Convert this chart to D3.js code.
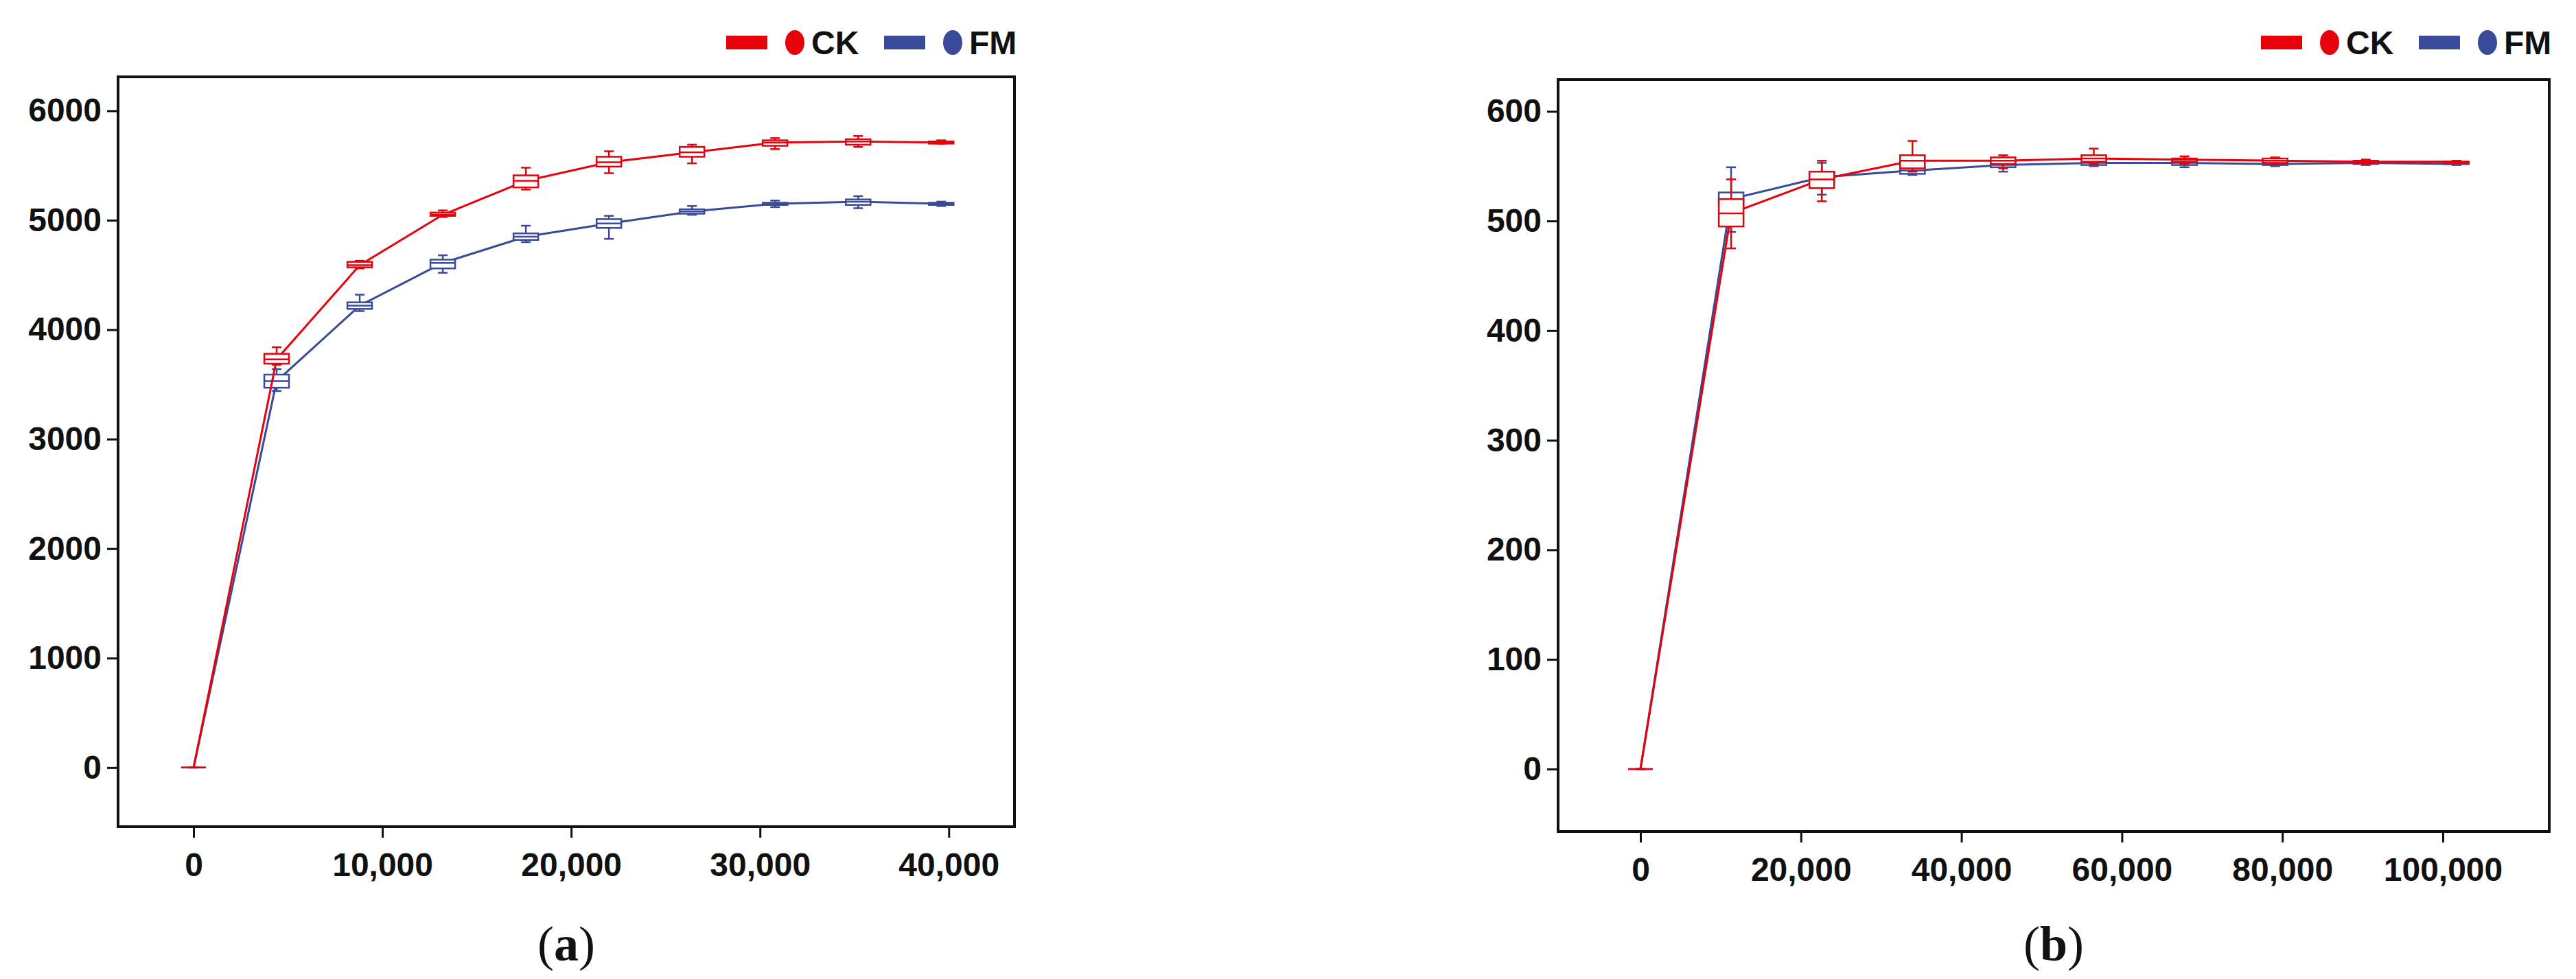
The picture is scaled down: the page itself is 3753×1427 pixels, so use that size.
<!DOCTYPE html>
<html><head><meta charset="utf-8">
<script src="https://cdn.jsdelivr.net/npm/d3@7"></script>
<style>body{margin:0;background:#fff}</style>
</head><body>
<script>
// [min, q1, median, q3, max]
var xA = [0, 4400, 8800, 13200, 17600, 22000, 26400, 30800, 35200, 39600];
var ckA = [[0,0,0,0,0],[3680,3690,3730,3780,3840],[4560,4570,4590,4620,4630],[5030,5040,5050,5070,5090],
  [5280,5300,5360,5410,5480],[5430,5490,5530,5580,5630],[5520,5580,5620,5670,5690],
  [5650,5680,5710,5730,5750],[5670,5690,5720,5740,5770],[5700,5700,5710,5720,5730]];
var fmA = [[0,0,0,0,0],[3440,3470,3530,3590,3640],[4170,4190,4220,4250,4320],[4520,4560,4610,4640,4680],
  [4800,4820,4850,4880,4950],[4830,4930,4970,5010,5040],[5050,5060,5080,5100,5130],
  [5120,5140,5150,5160,5180],[5110,5140,5170,5190,5220],[5130,5140,5150,5160,5170]];
var xB = [0, 11300, 22600, 33900, 45200, 56500, 67800, 79100, 90400, 101700];
var ckB = [[0,0,0,0,0],[475,495,507,520,538],[518,530,538,545,555],[545,548,555,560,573],
  [548,552,555,558,560],[552,554,557,560,566],[552,554,556,557,559],[552,553,555,557,558],
  [552,553,554,555,556],[553,553,554,554,555]];
var fmB = [[0,0,0,0,0],[490,515,520,526,549],[524,535,540,545,553],[542,543,546,549,551],
  [545,549,551,554,557],[550,551,553,554,556],[549,551,553,555,557],[550,551,552,553,555],
  [551,552,553,554,555],[551,552,552,553,554]];
var yTicksA = [0,1000,2000,3000,4000,5000,6000];
var xTicksA = [0,10000,20000,30000,40000];
var yTicksB = [0,100,200,300,400,500,600];
var xTicksB = [0,20000,40000,60000,80000,100000];

var RED = "#e8000b", BLUE = "#3a4a9a";
var svg = d3.select("body").append("svg").attr("width",3753).attr("height",1427);
var font = "'Liberation Sans Narrow','Liberation Sans',Arial,sans-serif";

function panel(o) {
  var x = d3.scaleLinear().domain(o.xd).range([o.l, o.r]);
  var y = d3.scaleLinear().domain(o.yd).range([o.b, o.t]);
  var g = svg.append("g");
  g.append("rect").attr("x",o.l).attr("y",o.t).attr("width",o.r-o.l).attr("height",o.b-o.t)
    .attr("fill","none").attr("stroke","#111").attr("stroke-width",4);
  var ya = g.append("g").attr("transform","translate("+(o.l-2)+",0)")
    .call(d3.axisLeft(y).tickValues(o.yt).tickSize(14).tickPadding(8).tickFormat(d3.format("d")));
  var xa = g.append("g").attr("transform","translate(0,"+(o.b+2)+")")
    .call(d3.axisBottom(x).tickValues(o.xt).tickSize(14).tickPadding(22).tickFormat(d3.format(",")));
  [ya, xa].forEach(function(a){
    a.select(".domain").remove();
    a.selectAll("line").attr("stroke","#111").attr("stroke-width",3);
    a.selectAll("text").attr("font-family",font).attr("font-weight","bold")
      .attr("font-size",48).attr("fill","#111");
  });
  var bw = 36;
  [[o.fm, BLUE], [o.ck, RED]].forEach(function(s){
    var data = s[0], c = s[1];
    g.append("path").datum(data).attr("fill","none").attr("stroke",c).attr("stroke-width",3)
      .attr("d", d3.line().x(function(d,i){return x(o.xs[i]);}).y(function(d){return y(d[2]);}));
    var bx = g.selectAll(null).data(data).enter().append("g")
      .attr("transform", function(d,i){return "translate("+x(o.xs[i])+",0)";});
    bx.append("line").attr("y1",function(d){return y(d[0]);}).attr("y2",function(d){return y(d[4]);})
      .attr("stroke",c).attr("stroke-width",2.5);
    [0,4].forEach(function(k){
      bx.append("line").attr("x1",-7).attr("x2",7).attr("y1",function(d){return y(d[k]);})
        .attr("y2",function(d){return y(d[k]);}).attr("stroke",c).attr("stroke-width",2.5);
    });
    bx.append("rect").attr("x",-bw/2).attr("width",bw)
      .attr("y",function(d){return y(d[3]);})
      .attr("height",function(d){return Math.max(0, y(d[1])-y(d[3]));})
      .attr("fill","#fff").attr("stroke",c).attr("stroke-width",2.5);
    bx.append("line").attr("x1",-bw/2).attr("x2",bw/2).attr("y1",function(d){return y(d[2]);})
      .attr("y2",function(d){return y(d[2]);}).attr("stroke",c).attr("stroke-width",2.5);
  });
  // legend
  var lx = o.r - 420, ly = 62;
  [["CK",RED,0],["FM",BLUE,230]].forEach(function(e){
    g.append("rect").attr("x",lx+e[2]).attr("y",ly-10).attr("width",60).attr("height",20).attr("fill",e[1]);
    g.append("ellipse").attr("cx",lx+e[2]+100).attr("cy",ly).attr("rx",14).attr("ry",18).attr("fill",e[1]);
    g.append("text").attr("x",lx+e[2]+124).attr("y",ly+17).text(e[0])
      .attr("font-family",font).attr("font-weight","bold").attr("font-size",48).attr("fill","#111");
  });
  var cap = g.append("text").attr("x",(o.l+o.r)/2).attr("y",1400).attr("text-anchor","middle")
    .attr("font-family","'Liberation Serif','DejaVu Serif',serif").attr("font-size",72).attr("fill","#111");
  cap.append("tspan").text("(");
  cap.append("tspan").attr("font-weight","bold").text(o.tag);
  cap.append("tspan").text(")");
}

panel({l:172, r:1478, t:112, b:1205, xd:[-4000,43480], yd:[-540,6310],
  xs:xA, ck:ckA, fm:fmA, xt:xTicksA, yt:yTicksA, tag:"a"});
panel({l:2270, r:3714, t:116, b:1212, xd:[-10265,113260], yd:[-57,629],
  xs:xB, ck:ckB, fm:fmB, xt:xTicksB, yt:yTicksB, tag:"b"});
</script>
</body></html>
